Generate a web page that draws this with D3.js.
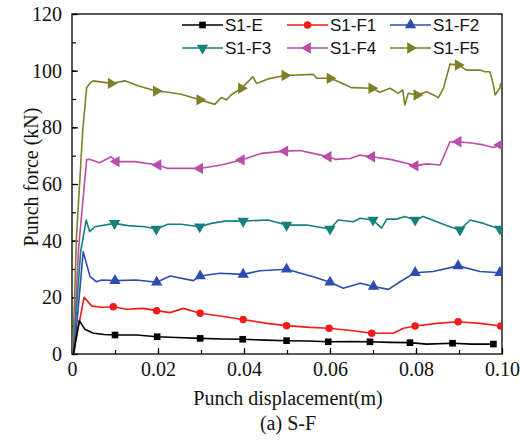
<!DOCTYPE html>
<html><head><meta charset="utf-8">
<script src="https://cdn.jsdelivr.net/npm/d3@7"></script>
<style>body{margin:0;background:#fff;}svg{display:block;}</style>
</head><body>
<svg id="chart" width="520" height="440"></svg>
<script>
// ---------------- data ----------------
const xTicks = [0, 0.02, 0.04, 0.06, 0.08, 0.10];
const xTickLabels = ["0", "0.02", "0.04", "0.06", "0.08", "0.10"];
const yTicks = [0, 20, 40, 60, 80, 100, 120];
const yTickLabels = ["0", "20", "40", "60", "80", "100", "120"];
const seriesNames = ["S1-E", "S1-F1", "S1-F2", "S1-F3", "S1-F4", "S1-F5"];
const xTitle = "Punch displacement(m)";
const yTitle = "Punch force (kN)";
const caption = "(a) S-F";

const dataE = [[0,0],[0.0003,0],[0.0017,11.8],[0.003,8.7],[0.005,7.3],[0.0075,6.9],[0.01,6.7],[0.015,6.7],[0.0198,6.1],
  [0.0243,5.8],[0.0298,5.5],[0.035,5.3],[0.0397,5.2],[0.045,4.9],[0.0499,4.7],[0.055,4.6],[0.0596,4.3],[0.065,4.4],
  [0.0693,4.3],[0.074,4.1],[0.0786,4.0],[0.0825,3.5],[0.0885,3.8],[0.093,3.5],[0.098,3.5]];
const dataF1 = [[0,0],[0.0003,0],[0.0028,20],[0.0046,16.9],[0.007,16.5],[0.0096,16.7],[0.0127,15.8],[0.0166,16.1],
  [0.0197,15.3],[0.0228,14.6],[0.0259,16.1],[0.0298,14.4],[0.0344,13.4],[0.0398,12.2],[0.0453,10.8],[0.0499,10.0],
  [0.0553,9.4],[0.0598,9.1],[0.0654,8.2],[0.0697,7.3],[0.0747,7.3],[0.0771,9.1],[0.0798,9.9],[0.0848,10.8],
  [0.0898,11.4],[0.0949,10.8],[0.0997,9.9]];
const dataF2 = [[0,0],[0.0005,0],[0.0026,36.1],[0.0042,27.3],[0.0057,25.5],[0.0069,26.1],[0.01,25.9],[0.015,26.1],
  [0.0197,25.3],[0.0228,27.5],[0.0282,25.9],[0.0298,27.5],[0.0344,28.5],[0.0398,28.1],[0.0437,29.4],[0.0499,29.9],
  [0.0561,27.3],[0.06,25.3],[0.0631,23.2],[0.067,25.0],[0.0701,23.8],[0.0736,22.8],[0.0763,25.5],[0.0798,28.7],
  [0.084,29.1],[0.0898,31.1],[0.0949,29.1],[0.0995,28.7]];
const dataF3 = [[0,0],[0.0003,0],[0.002,36],[0.0033,47.3],[0.0041,43.2],[0.0053,44.9],[0.0099,46.1],[0.013,45.3],
  [0.0169,44.9],[0.0196,44.1],[0.0223,45.8],[0.0254,45.8],[0.0297,44.9],[0.0324,46.1],[0.0355,46.9],[0.0398,46.9],
  [0.0456,47.3],[0.0499,45.5],[0.0546,45.5],[0.06,44.1],[0.0619,47.3],[0.0654,46.7],[0.067,47.9],[0.07,47.3],
  [0.072,44.4],[0.0732,47.6],[0.0755,47.6],[0.0774,48.5],[0.0798,47.3],[0.0817,48.5],[0.0848,46.7],[0.0879,44.9],
  [0.0902,43.8],[0.0926,47.3],[0.0957,46.1],[0.0995,44.1]];
const dataF4 = [[0,0],[0.0003,0],[0.0015,36.7],[0.0034,68.6],[0.0041,68.7],[0.0064,67.5],[0.0091,69.6],[0.0103,67.9],
  [0.0146,67.9],[0.02,66.7],[0.0223,65.5],[0.0297,65.5],[0.0347,66.7],[0.0394,68.5],[0.044,70.8],[0.0495,71.6],
  [0.053,71.8],[0.0561,70.8],[0.0596,69.6],[0.0612,68.7],[0.0647,69.0],[0.067,70.2],[0.0697,69.6],[0.074,68.7],
  [0.0778,67.3],[0.0798,66.4],[0.0825,67.1],[0.0856,66.7],[0.0879,74.9],[0.0898,74.9],[0.0933,74.4],[0.0957,73.8],
  [0.098,72.9],[0.0995,73.8]];
const dataF5 = [[0,0],[0.0002,0],[0.001,40.2],[0.0025,79],[0.0034,94],[0.0041,95.5],[0.0049,96.4],[0.0091,95.5],
  [0.0123,96.4],[0.0153,94.7],[0.0196,92.8],[0.0223,92.4],[0.0254,91.7],[0.0297,89.7],[0.0332,88.1],[0.0347,90.5],
  [0.0359,89.7],[0.037,91.4],[0.0394,93.8],[0.0421,97.9],[0.0429,95.5],[0.0456,97.1],[0.0495,98.3],[0.0561,98.7],
  [0.0569,97.3],[0.06,97.3],[0.0623,95.9],[0.065,94.0],[0.0697,93.8],[0.0716,92.4],[0.074,93.8],[0.0759,92.0],
  [0.0769,93.2],[0.0774,87.9],[0.0782,92.0],[0.0802,91.4],[0.0825,92.6],[0.0852,90.5],[0.0864,93.8],[0.0879,102.3],
  [0.0898,102.0],[0.0918,100.2],[0.0949,100.2],[0.096,99.6],[0.0972,99.6],[0.098,95.0],[0.0984,91.4],[0.0995,93.8],
  [0.0997,95.5]];

const markersE = [0.01,0.0198,0.0298,0.0397,0.0499,0.0596,0.0693,0.0786,0.0885,0.098];
const markersF1 = [0.0096,0.0197,0.0298,0.0398,0.0499,0.0598,0.0697,0.0798,0.0898,0.0997];
const markersF2 = [0.01,0.0197,0.0298,0.0398,0.0499,0.06,0.0701,0.0798,0.0898,0.0995];
const markersF3 = [0.0099,0.0196,0.0297,0.0398,0.0499,0.06,0.07,0.0798,0.0902,0.0995];
const markersF4 = [0.0103,0.02,0.0297,0.0394,0.0495,0.0596,0.0697,0.0798,0.0898,0.0995];
const markersF5 = [0.0091,0.0196,0.0297,0.0394,0.0495,0.06,0.0697,0.0802,0.0898];

// ---------------- drawing ----------------
const seriesData = [dataE, dataF1, dataF2, dataF3, dataF4, dataF5];
const seriesMarkers = [markersE, markersF1, markersF2, markersF3, markersF4, markersF5];
const colors = ["#000000", "#f01c1c", "#2c4cb0", "#17807a", "#bb4ca8", "#7f7f2a"];
const shapes = [
  {type: d3.symbolSquare, size: 44, rot: 0},
  {type: d3.symbolCircle, size: 44, rot: 0},
  {type: d3.symbolTriangle, size: 56, rot: 0},
  {type: d3.symbolTriangle, size: 56, rot: 180},
  {type: d3.symbolTriangle, size: 56, rot: -90},
  {type: d3.symbolTriangle, size: 56, rot: 90}
];

const svg = d3.select("#chart");
const m = {left: 72, right: 502, top: 14, bottom: 354};
const x = d3.scaleLinear().domain([0, 0.10]).range([m.left, m.right]);
const y = d3.scaleLinear().domain([0, 120]).range([m.bottom, m.top]);
const serif = "'Liberation Serif','Times New Roman',serif";
const sans = "'Liberation Sans',Arial,sans-serif";

// frame
svg.append("rect").attr("x", m.left).attr("y", m.top)
  .attr("width", m.right - m.left).attr("height", m.bottom - m.top)
  .attr("fill", "none").attr("stroke", "#000").attr("stroke-width", 1.3);

// x axis (inward ticks)
const xMinor = d3.range(0, 0.1001, 0.01);
const gx = svg.append("g").attr("transform", `translate(0,${m.bottom})`);
gx.call(d3.axisBottom(x).tickValues(xMinor).tickSize(-4).tickFormat(""))
  .call(g => g.select(".domain").remove());
gx.append("g").call(d3.axisBottom(x).tickValues(xTicks).tickSize(-6)
  .tickFormat((d, i) => xTickLabels[i]).tickPadding(8))
  .call(g => g.select(".domain").remove())
  .call(g => g.selectAll("text").attr("font-family", serif).attr("font-size", 20).attr("fill", "#111"));
gx.selectAll("line").attr("stroke", "#000").attr("stroke-width", 1.2);

// y axis
const yMinor = d3.range(0, 121, 10);
const gy = svg.append("g").attr("transform", `translate(${m.left},0)`);
gy.call(d3.axisLeft(y).tickValues(yMinor).tickSize(-4).tickFormat(""))
  .call(g => g.select(".domain").remove());
gy.append("g").call(d3.axisLeft(y).tickValues(yTicks).tickSize(-6)
  .tickFormat((d, i) => yTickLabels[i]).tickPadding(10))
  .call(g => g.select(".domain").remove())
  .call(g => g.selectAll("text").attr("font-family", serif).attr("font-size", 20).attr("fill", "#111"));
gy.selectAll("line").attr("stroke", "#000").attr("stroke-width", 1.2);

// titles
svg.append("text").attr("x", (m.left + m.right) / 2 + 1).attr("y", 405)
  .attr("text-anchor", "middle").attr("font-family", serif).attr("font-size", 20).attr("fill", "#111").text(xTitle);
svg.append("text").attr("x", (m.left + m.right) / 2 + 1).attr("y", 430)
  .attr("text-anchor", "middle").attr("font-family", serif).attr("font-size", 20).attr("fill", "#111").text(caption);
svg.append("text").attr("transform", "translate(38,177) rotate(-90)")
  .attr("text-anchor", "middle").attr("font-family", serif).attr("font-size", 20).attr("fill", "#111").text(yTitle);

// lines and markers
svg.append("clipPath").attr("id", "clip").append("rect")
  .attr("x", m.left).attr("y", m.top).attr("width", m.right - m.left).attr("height", m.bottom - m.top);
const line = d3.line().x(d => x(d[0])).y(d => y(d[1]));
const plot = svg.append("g").attr("clip-path", "url(#clip)");
const drawOrder = [5, 4, 3, 2, 1, 0];
drawOrder.forEach(i => {
  plot.append("path").datum(seriesData[i]).attr("d", line)
    .attr("fill", "none").attr("stroke", colors[i]).attr("stroke-width", 1.6).attr("stroke-linejoin", "round");
});
drawOrder.forEach(i => {
  const pts = seriesMarkers[i].map(mx => {
    let best = seriesData[i][0];
    seriesData[i].forEach(p => { if (Math.abs(p[0] - mx) < Math.abs(best[0] - mx)) best = p; });
    return best;
  });
  const sh = shapes[i];
  plot.selectAll(null).data(pts).enter().append("path")
    .attr("d", d3.symbol().type(sh.type).size(sh.size))
    .attr("transform", d => `translate(${x(d[0])},${y(d[1])}) rotate(${sh.rot})`)
    .attr("fill", colors[i]);
});

// legend
const legX = [182, 287, 390];
const legY = [25, 48];
seriesNames.forEach((name, i) => {
  const col = i % 3, row = Math.floor(i / 3);
  const g = svg.append("g").attr("transform", `translate(${legX[col]},${legY[row]})`);
  g.append("line").attr("x1", 0).attr("x2", 41).attr("y1", 0).attr("y2", 0)
    .attr("stroke", colors[i]).attr("stroke-width", 1.6);
  g.append("path").attr("d", d3.symbol().type(shapes[i].type).size(shapes[i].size))
    .attr("transform", `translate(20.5,0) rotate(${shapes[i].rot})`).attr("fill", colors[i]);
  g.append("text").attr("x", 43).attr("y", 0).attr("dy", "0.35em")
    .attr("font-family", sans).attr("font-size", 17).attr("fill", "#111").text(name);
});
</script>
</body></html>
